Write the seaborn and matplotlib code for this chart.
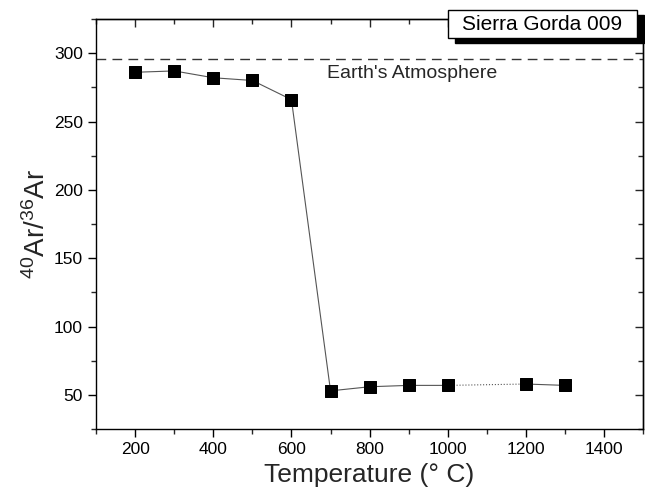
import matplotlib
matplotlib.use("Agg")
import matplotlib.pyplot as plt
import seaborn as sns
import pandas as pd
from matplotlib.ticker import MultipleLocator
from matplotlib.patches import Rectangle

temperature = [200, 300, 400, 500, 600, 700, 800, 900, 1000, 1200, 1300]
ratio = [286, 287, 282, 280, 266, 53, 56, 57, 57, 58, 57]
atmosphere = 296
sample_name = "Sierra Gorda 009"

df = pd.DataFrame({"T": temperature, "R": ratio})

sns.set_style("ticks")
plt.rcParams["font.family"] = ["Liberation Sans", "DejaVu Sans"]
plt.rcParams["mathtext.fontset"] = "custom"
plt.rcParams["mathtext.rm"] = "Liberation Sans"
plt.rcParams["mathtext.it"] = "Liberation Sans:italic"
plt.rcParams["mathtext.bf"] = "Liberation Sans:bold"
plt.rcParams["mathtext.default"] = "regular"

fig = plt.figure(figsize=(6.45, 4.99), dpi=100)
ax = fig.add_axes([0.149, 0.140, 0.848, 0.822])

solid1 = df.iloc[:9]
dotted = df.iloc[8:10]
solid2 = df.iloc[9:]
for part, ls in [(solid1, "-"), (dotted, ":"), (solid2, "-")]:
    sns.lineplot(data=part, x="T", y="R", ax=ax, color="#555555", lw=0.8,
                 linestyle=ls, sort=False, estimator=None)
sns.scatterplot(data=df, x="T", y="R", ax=ax, marker="s", s=80, color="black",
                edgecolor="black", zorder=5)

ax.axhline(atmosphere, color="#333333", lw=1.0, ls=(0, (7, 4.5)))
ax.text(690, 285, "Earth's Atmosphere", fontsize=14, ha="left", va="center")

ax.set_xlim(100, 1500)
ax.set_ylim(25, 325)
ax.xaxis.set_major_locator(MultipleLocator(200))
ax.xaxis.set_minor_locator(MultipleLocator(100))
ax.yaxis.set_major_locator(MultipleLocator(50))
ax.yaxis.set_minor_locator(MultipleLocator(25))
ax.tick_params(axis="both", which="major", direction="out", length=6, width=1,
               labelsize=12.5, colors="black")
ax.tick_params(axis="both", which="minor", direction="out", length=3.5, width=1)
for s in ax.spines.values():
    s.set_linewidth(1.0)
    s.set_color("black")

# mirrored inward ticks on top and right
top = ax.secondary_xaxis("top")
top.xaxis.set_major_locator(MultipleLocator(200))
top.xaxis.set_minor_locator(MultipleLocator(100))
top.tick_params(which="major", direction="in", length=6, width=1, labeltop=False)
top.tick_params(which="minor", direction="in", length=3.5, width=1)
right = ax.secondary_yaxis("right")
right.yaxis.set_major_locator(MultipleLocator(50))
right.yaxis.set_minor_locator(MultipleLocator(25))
right.tick_params(which="major", direction="in", length=6, width=1, labelright=False)
right.tick_params(which="minor", direction="in", length=3.5, width=1)
for sec in (top, right):
    for s in sec.spines.values():
        s.set_linewidth(1.0)

ax.set_xlabel("Temperature (° C)", fontsize=19, labelpad=4)
ax.set_ylabel("$^{40}$Ar/$^{36}$Ar", fontsize=20, labelpad=2)

# sample label with drop shadow
W, H = 645.0, 499.0
fig.patches.append(Rectangle((455 / W, 1 - 43 / H), 189 / W, 28 / H,
                             transform=fig.transFigure, fc="black", ec="black",
                             lw=1, zorder=9))
fig.patches.append(Rectangle((448 / W, 1 - 38 / H), 189 / W, 28 / H,
                             transform=fig.transFigure, fc="white", ec="black",
                             lw=1, zorder=10))
fig.text(542.5 / W, 1 - 24 / H, sample_name, fontsize=15, ha="center",
         va="center", color="black", zorder=11)

fig.savefig("out.png", dpi=100)
